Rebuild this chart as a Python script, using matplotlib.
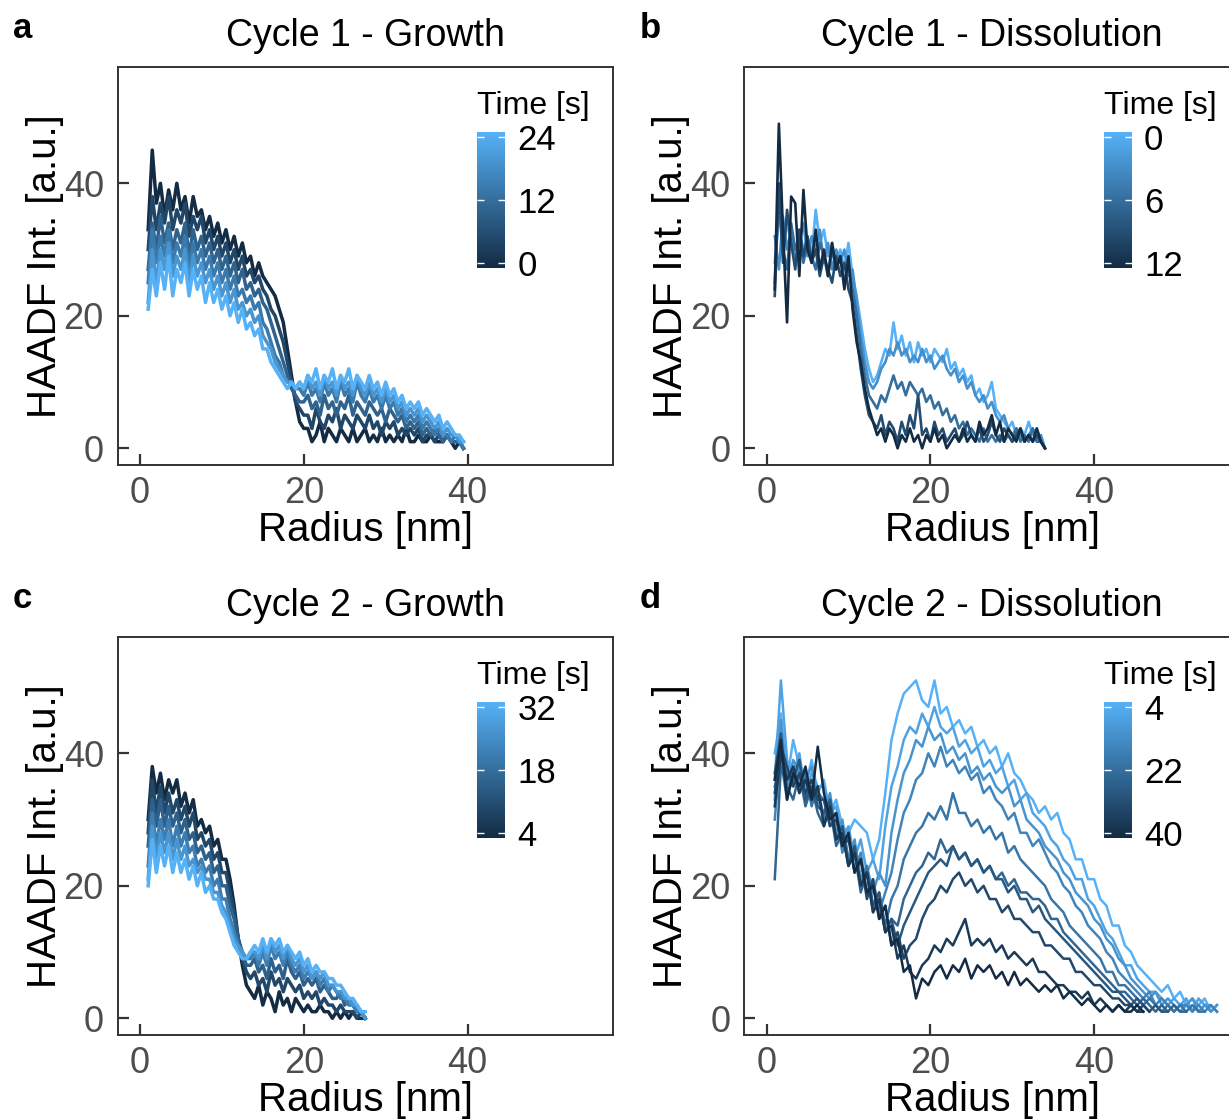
import numpy as np
import matplotlib
matplotlib.use("Agg")
import matplotlib.pyplot as plt
from matplotlib.colors import LinearSegmentedColormap, Normalize
from matplotlib.cm import ScalarMappable

plt.rcParams['font.family'] = ['Liberation Sans', 'DejaVu Sans']

#### data: radial HAADF profiles, one list per time step
# cycle 1 growth, radius starts at 1 nm, 0.5 nm bins
a_times = [0, 5, 10, 14, 19, 24]
a_profiles = [
    [33,45,37,40,35,39,36,40,36,38, 34,38,35,36,33,35,32,34,31,33, 30,32,29,31,28,29,26,28,26,25,
     24,23,21,19,15,11,7,4,3, 3,1,2,4,1,3,2,1,3,2, 1,3,1,2,3,1,2,1,3,1, 2,1,2,1,3,1,1,2,1,1, 2,1,1,1,2,1,0,1,0],
    [30,38,33,37,34,38,33,36,34,37, 32,35,33,35,31,33,30,32,29,31, 28,30,27,29,26,27,25,26,24,23,
     21,20,18,16,13,10,7,6,5, 5,3,6,4,3,5,4,6,3,5, 4,3,5,4,3,5,3,4,2,4, 3,4,2,3,2,3,2,3,1,2, 2,1,2,1,2,1,1,1,0],
    [27,34,30,35,31,34,30,33,31,34, 29,33,30,32,29,31,28,30,27,29, 26,28,25,27,24,25,23,24,22,21,
     19,17,15,13,11,9,8,7,7, 8,6,7,5,8,6,7,5,7,6, 8,5,7,6,5,7,6,5,6,4, 6,5,4,5,3,4,3,4,2,3, 2,3,2,1,2,1,1,1,0],
    [25,33,28,32,29,33,28,31,29,32, 27,31,28,30,27,29,26,28,25,27, 24,26,23,24,22,23,21,22,19,18,
     16,14,13,11,10,10,9,9,8, 10,8,9,7,10,8,9,7,10,8, 9,7,10,8,7,9,7,8,6,8, 6,7,5,6,4,5,4,5,3,4, 3,2,3,2,2,1,2,1,0],
    [22,30,25,30,27,31,26,29,27,30, 25,29,26,28,25,27,24,26,23,25, 22,24,21,22,20,21,19,20,17,16,
     15,13,12,11,10,10,9,10,9, 11,9,10,8,11,9,10,8,11,9, 10,8,11,9,8,10,8,9,7,9, 7,8,6,7,5,6,5,6,4,5, 4,3,4,2,3,2,2,1,1],
    [21,27,23,28,24,29,23,27,25,28, 23,27,24,26,22,25,22,24,21,23, 20,22,19,21,18,19,17,18,15,15,
     13,12,11,10,9,10,9,10,9, 11,10,12,9,11,10,12,9,11,10, 12,9,11,10,9,11,9,10,8,10, 8,9,7,8,6,7,6,7,5,6, 5,4,5,3,4,3,2,2,1],
]

# cycle 1 dissolution, radius starts at 1 nm, 0.5 nm bins
b_times = [0, 3, 6, 9, 12]
b_profiles = [
    [28,36,30,34,31,29,33,30,32,29, 36,31,33,29,31,28,30,27,31,26, 23,19,15,12,10,11,13,15,14,19,
     15,17,14,16,13,16,14,15,13,15, 14,13,15,12,13,11,12,10,11,8, 9,7,8,10,6,5,4,3,4,2, 3,2,4,2,3,1,0],
    [32,27,35,30,33,28,31,34,29,32, 30,33,28,31,27,30,28,30,26,27, 22,17,13,10,9,10,12,13,15,14,
     16,14,15,13,14,13,15,13,14,12, 13,14,12,11,12,10,11,9,10,8, 7,8,6,7,5,4,5,3,2,3, 2,1,2,3,1,2,0],
    [25,38,30,27,34,30,32,28,31,29, 27,31,29,26,30,27,29,25,28,24, 20,15,11,8,7,6,8,7,9,11,
     9,10,8,10,9,8,9,7,8,6, 7,5,6,4,5,3,4,2,3,2, 1,3,1,2,1,2,1,2,1,3, 1,2,1,3,1,1,0],
    [23,40,28,36,31,27,33,29,32,28, 30,26,29,27,25,29,26,28,24,22, 17,12,8,5,4,3,5,2,4,3,
     1,4,2,5,3,8,2,3,1,4, 2,3,1,2,3,1,2,4,2,1, 3,1,2,4,2,1,3,2,1,2, 3,1,2,1,2,1,0],
    [24,49,33,19,38,37,26,39,30,28, 33,27,30,26,31,27,29,24,29,21, 16,13,9,6,4,2,3,1,3,2,
     0,2,1,3,1,2,0,2,1,3, 1,2,0,1,2,1,3,1,2,1, 4,2,3,5,2,4,1,3,2,1, 3,1,2,1,3,1,0],
]

# cycle 2 growth, radius starts at 1 nm, 0.5 nm bins
c_times = [4, 10, 15, 21, 26, 32]
c_profiles = [
    [30,38,34,37,33,36,34,36,32,34, 31,33,29,30,28,29,26,27,24,24, 21,17,12,8,5,4,
     3,5,2,4,3,1,4,2,3,1, 3,2,1,2,1,1,2,1,1,0, 1,0,1,0,1,0,0,0],
    [28,36,31,35,31,34,31,33,30,32, 29,31,27,28,26,27,24,25,22,22, 19,16,12,9,7,6,
     7,5,6,4,7,5,6,4,6,5, 4,5,3,4,3,4,2,3,2,2, 1,2,1,1,1,0,1,0],
    [26,33,29,33,29,32,29,31,28,30, 27,28,25,26,24,25,22,23,20,20, 17,15,12,10,8,8,
     9,7,8,6,9,7,8,6,9,7, 6,7,5,6,5,6,4,5,4,3, 3,4,2,3,2,1,1,0],
    [23,31,26,30,27,30,26,29,26,28, 25,26,23,24,22,23,20,21,18,18, 15,13,11,10,9,9,
     10,8,10,8,11,9,10,8,10,8, 7,8,6,7,6,7,5,6,4,5, 4,3,3,2,2,1,1,0],
    [21,29,24,28,25,28,24,27,24,26, 23,24,22,23,21,21,19,19,17,16, 14,12,11,10,9,10,
     10,9,11,9,12,10,11,9,11,9, 8,9,7,8,6,7,6,7,5,5, 4,4,3,3,2,2,1,0],
    [20,27,22,26,23,26,22,25,22,24, 21,23,20,22,19,20,18,18,16,15, 13,11,10,9,9,10,
     11,10,12,10,12,11,12,10,11,10, 9,10,8,9,7,8,7,7,6,6, 5,5,4,3,3,2,1,1],
]

# cycle 2 dissolution, radius starts at 1 nm, 0.75 nm bins
d_times = [4, 8, 12, 16, 20, 24, 28, 32, 36, 40]
d_profiles = [
    [40,46,36,42,38,35,39,34,36,31, 33,29,28,30,29,28,24,27,34,42, 46,49,50,51,48,47,51,46,47,44,
     45,43,44,41,42,40,41,38,40,37, 36,34,33,31,32,30,31,28,27,24, 24,21,21,18,17,14,14,11,10,8,
     7,6,5,4,5,3,4,2,3,2, 3,1,2],
    [36,51,39,37,40,34,37,35,35,31, 32,27,29,24,27,22,24,21,29,35, 38,42,44,43,46,44,47,44,43,44,
     41,42,40,41,38,39,37,38,35,36, 33,34,31,30,29,27,26,24,23,21, 21,18,17,15,13,12,10,8,8,6,
     5,4,4,3,2,3,2,3,1,3, 2,2,1],
    [33,45,35,39,37,36,38,33,31,34, 28,30,24,27,21,23,19,22,20,28, 33,37,39,42,41,44,42,43,40,41,
     39,40,37,38,36,37,35,34,35,32, 33,30,29,28,26,25,24,22,21,19, 18,17,15,14,12,11,9,8,6,5,
     4,3,4,2,3,2,1,2,3,1, 2,1,2],
    [30,41,37,35,39,33,36,34,33,29, 31,25,28,22,25,19,21,16,19,22, 27,31,33,36,37,40,38,41,38,39,
     37,38,36,37,34,35,33,32,30,31, 28,28,26,27,25,23,22,20,19,17, 16,14,13,12,10,9,7,6,5,4,
     3,4,2,3,2,1,2,2,1,2, 1,2,1],
    [35,39,33,38,34,37,32,35,30,33, 27,29,24,26,20,23,17,19,14,18, 20,24,26,28,29,31,30,32,30,34,
     31,31,29,30,28,29,27,28,25,26, 24,23,22,21,20,18,17,16,14,13, 12,11,10,9,7,7,5,5,4,3,
     2,3,2,1,2,1,2,1,2,1, 1],
    [21,38,35,33,37,32,35,31,29,32, 26,28,23,25,19,22,16,18,13,15, 14,18,20,22,23,25,24,27,25,26,
     24,25,23,24,22,23,21,22,20,21, 19,19,18,18,17,15,15,13,12,11, 10,9,8,7,6,5,4,4,3,2,
     3,2,1,2,1,2,1,1],
    [37,43,34,36,39,33,35,32,31,33, 27,29,23,26,20,22,17,19,13,15, 11,14,16,18,20,22,23,24,23,26,
     24,25,23,24,22,23,21,21,19,20, 18,18,16,17,15,14,13,12,11,10, 9,8,7,6,5,4,4,3,2,3,
     2,1,2,1,1],
    [34,41,38,35,37,34,36,33,33,29, 30,26,27,22,24,18,21,15,17,11, 13,9,11,12,15,17,18,20,19,21,
     22,20,21,19,20,18,18,16,17,15, 15,14,13,13,11,11,10,9,9,7, 7,6,5,5,4,3,3,2,2,1,
     2,1],
    [32,40,36,38,34,36,33,35,29,32, 27,28,23,25,20,22,16,18,13,14, 9,11,7,6,8,9,11,10,12,11,
     13,15,11,12,11,12,10,11,9,10, 9,8,9,7,7,6,5,5,4,4, 3,4,2,3,2,1,2,1,2,1,
     1],
    [36,42,33,37,35,38,33,41,34,30, 31,26,28,22,24,19,20,15,17,11, 12,7,8,3,6,5,7,8,6,8,
     7,9,6,8,7,8,6,7,5,7, 5,6,5,4,5,4,5,3,4,3, 2,3,2,1,2,1,2,1,1,2,
     1],
]

gg_blue = LinearSegmentedColormap.from_list('gg_blue', ['#132B43', '#56B1F7'])

W, H = 1229, 1120
fig = plt.figure(figsize=(W / 100, H / 100), dpi=100)


def px_box(x0, y0, w, h):
    return [x0 / W, 1 - (y0 + h) / H, w / W, h / H]


AX_W, AX_H = 495.6, 398.3


def draw_panel(letter, title, x0, y0, times, profiles, step, cticks, rev, lw):
    ax = fig.add_axes(px_box(x0, y0, AX_W, AX_H))
    cmap = gg_blue.reversed() if rev else gg_blue
    tmin, tmax = min(cticks), max(cticks)
    norm = Normalize(tmin, tmax)
    for t, v in zip(times, profiles):
        r = 1.0 + step * np.arange(len(v))
        ax.plot(r, v, color=cmap(norm(t)), lw=lw)

    ax.set_xlim(-2.72, 57.8)
    ax.set_ylim(-2.52, 57.6)
    ax.set_xticks([0, 20, 40])
    ax.set_yticks([0, 20, 40])
    ax.tick_params(direction='in', length=8, width=1.6, color='#333333',
                   labelcolor='#4D4D4D', labelsize=26)
    ax.tick_params(axis='x', pad=8)
    ax.tick_params(axis='y', pad=10)
    for s in ax.spines.values():
        s.set_color('#333333')
        s.set_linewidth(1.4)
    ax.set_xlabel('Radius [nm]', fontsize=29, labelpad=0)
    ax.set_ylabel('HAADF Int. [a.u.]', fontsize=29, labelpad=0)
    ax.set_title(title, fontsize=27, pad=15)
    fig.text(13 / W if x0 < 300 else 640 / W, 1 - (y0 - 29) / H, letter,
             fontsize=25, fontweight='bold', va='baseline', ha='left')

    # colour bar as a ggplot-style legend
    cax = fig.add_axes(px_box(x0 + 359.3, y0 + 65.3, 28, 136))
    ext = (tmax - tmin) * 5 / 126
    sm = ScalarMappable(Normalize(tmin - ext, tmax + ext), cmap)
    cb = fig.colorbar(sm, cax=cax, ticks=cticks)
    cb.outline.set_visible(False)
    if rev:
        cax.invert_yaxis()
    cax.tick_params(axis='y', direction='in', length=5, width=1, color='white',
                    left=True, right=True, labelleft=False, labelright=True,
                    labelsize=25, labelcolor='black', pad=9)
    cax.set_title('Time [s]', loc='left', fontsize=23, pad=13)
    return ax


draw_panel('a', 'Cycle 1 - Growth', 117.7, 66.7, a_times, a_profiles, 0.5, [0, 12, 24], False, 2.5)
draw_panel('b', 'Cycle 1 - Dissolution', 744.3, 66.7, b_times, b_profiles, 0.5, [0, 6, 12], True, 1.9)
draw_panel('c', 'Cycle 2 - Growth', 117.7, 636.7, c_times, c_profiles, 0.5, [4, 18, 32], False, 2.5)
draw_panel('d', 'Cycle 2 - Dissolution', 744.3, 636.7, d_times, d_profiles, 0.75, [4, 22, 40], True, 1.8)

fig.savefig('out.png', dpi=100)
